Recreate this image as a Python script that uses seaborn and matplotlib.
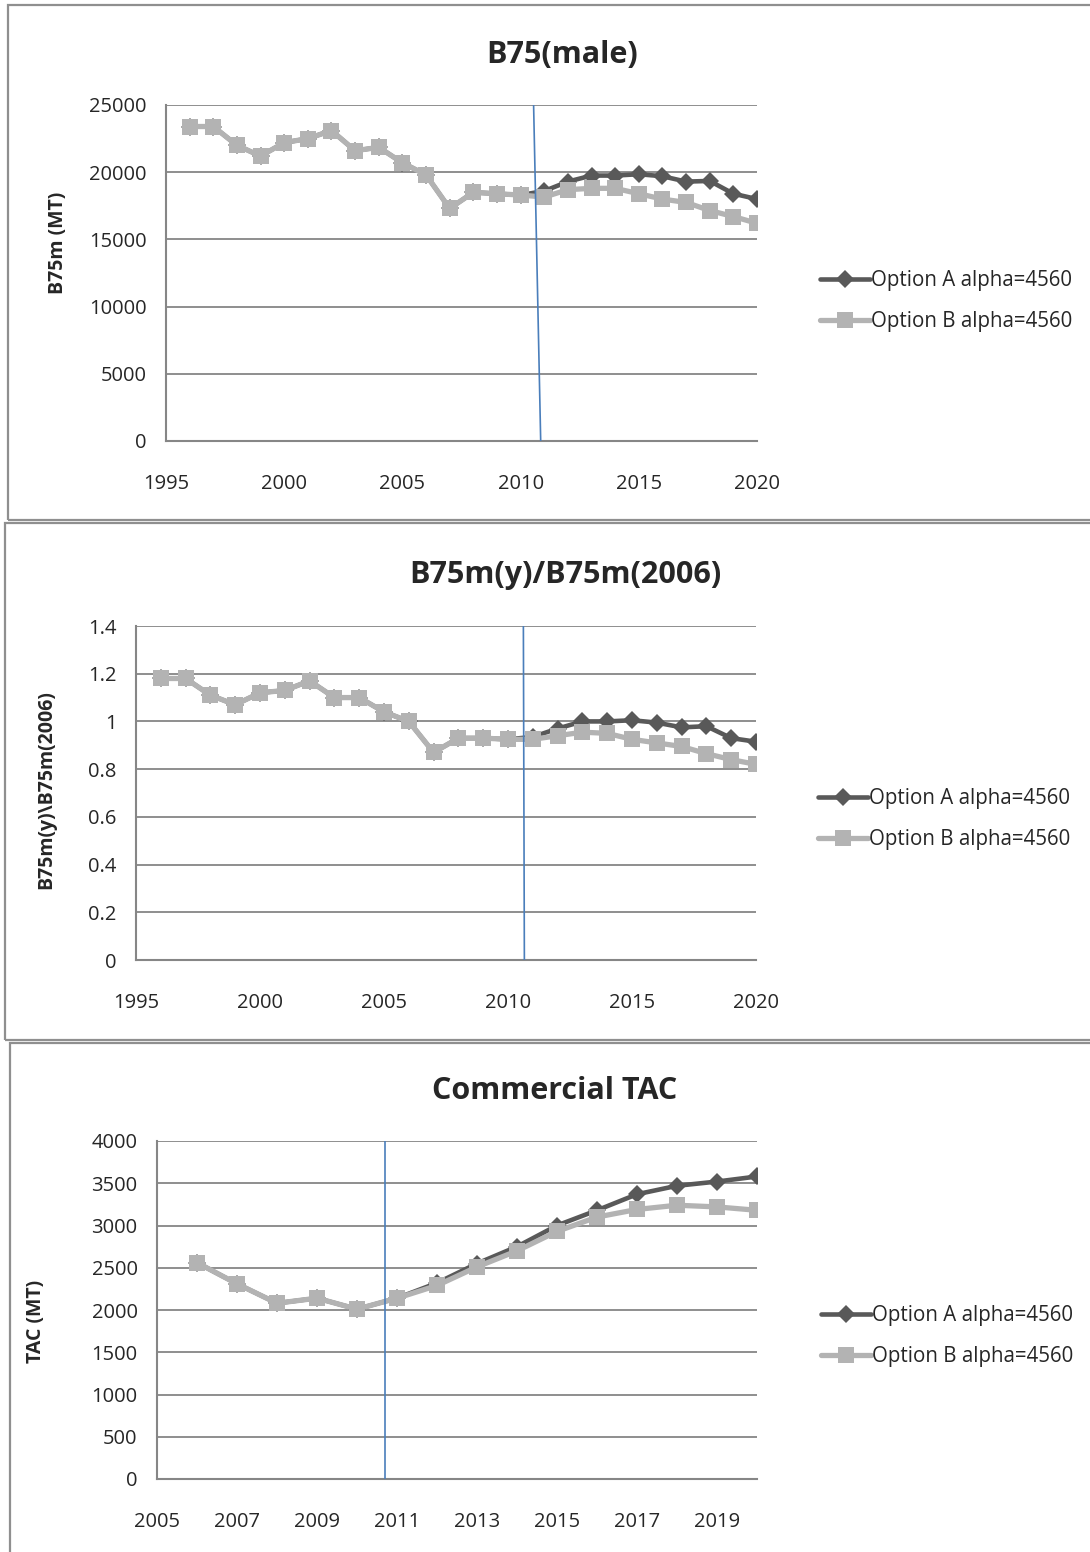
import numpy as np
import pandas as pd
import matplotlib
matplotlib.use("Agg")
import matplotlib.pyplot as plt
from matplotlib.patches import Rectangle
from matplotlib.ticker import MultipleLocator, FixedLocator, FuncFormatter
import seaborn as sns

# ---- data ----
years_b75 = list(range(1996, 2021))
b75_opt_a = [23400, 23400, 22000, 21200, 22200, 22500, 23100, 21600, 21850, 20700,
             19800, 17300, 18500, 18400, 18300, 18600, 19300, 19750, 19750, 19850,
             19700, 19300, 19350, 18400, 18000]
b75_opt_b = [23400, 23400, 22000, 21200, 22200, 22500, 23100, 21600, 21850, 20700,
             19800, 17300, 18500, 18400, 18300, 18150, 18700, 18800, 18800, 18400,
             18000, 17750, 17150, 16700, 16200]

ratio_opt_a = [1.18, 1.18, 1.11, 1.07, 1.12, 1.13, 1.17, 1.10, 1.10, 1.04,
               1.00, 0.87, 0.93, 0.93, 0.925, 0.935, 0.97, 1.00, 1.00, 1.005,
               0.995, 0.975, 0.98, 0.93, 0.915]
ratio_opt_b = [1.18, 1.18, 1.11, 1.07, 1.12, 1.13, 1.17, 1.10, 1.10, 1.04,
               1.00, 0.87, 0.93, 0.93, 0.925, 0.925, 0.94, 0.955, 0.95, 0.925,
               0.91, 0.895, 0.865, 0.84, 0.82]

years_tac = list(range(2006, 2021))
tac_opt_a = [2560, 2310, 2080, 2140, 2010, 2140, 2320, 2550, 2750, 3000,
             3180, 3370, 3470, 3520, 3580]
tac_opt_b = [2560, 2310, 2080, 2140, 2010, 2140, 2290, 2510, 2700, 2930,
             3100, 3190, 3240, 3220, 3180]
tac_year_ticks = list(range(2005, 2020, 2))

label_a = "Option A alpha=4560"
label_b = "Option B alpha=4560"

# hand-drawn divider line in each panel (x at top, x at bottom)
divider_b75 = [2010.55, 2010.85]
divider_ratio = [2010.62, 2010.66]
divider_tac = [2010.7, 2010.7]

# ---- style ----
sns.set_style("white")
plt.rcParams["font.family"] = ["Open Sans", "DejaVu Sans"]

W, H = 1090, 1552
fig = plt.figure(figsize=(W / 100, H / 100), dpi=100)

GRID = "#868686"
DARK = "#595959"
LIGHT = "#b3b3b3"
BLUE = "#4a7ebb"


def px_axes(left, top, right, bottom):
    return fig.add_axes([left / W, 1 - bottom / H, (right - left) / W, (bottom - top) / H])


def px_text(x, y, s, **kw):
    fig.text(x / W, 1 - y / H, s, ha="center", va="center", **kw)


def panel_box(x0, y0, x1, y1):
    fig.patches.append(Rectangle((x0 / W, 1 - y1 / H), (x1 - x0) / W, (y1 - y0) / H,
                                 transform=fig.transFigure, fill=False,
                                 edgecolor="#8f8f8f", linewidth=1.6))


def draw_panel(ax, x, ya, yb, divider, ylim, xlim, xticks, ystep, yfmt, leg_xy):
    sns.lineplot(x=x, y=ya, ax=ax, color=DARK, marker="D", markersize=9.5,
                 markeredgewidth=0, linewidth=3.3, label=label_a, zorder=3)
    sns.lineplot(x=x, y=yb, ax=ax, color=LIGHT, marker="s", markersize=12,
                 markeredgewidth=0, linewidth=3.8, label=label_b, zorder=4)
    ax.plot(divider, [ylim[1], ylim[0]], color=BLUE, linewidth=1.2, zorder=5)
    ax.set_xlim(*xlim)
    ax.set_ylim(*ylim)
    ax.yaxis.set_major_locator(MultipleLocator(ystep))
    ax.yaxis.set_major_formatter(FuncFormatter(yfmt))
    if xticks is None:
        ax.xaxis.set_major_locator(MultipleLocator(5))
        ax.xaxis.set_minor_locator(MultipleLocator(1))
    else:
        ax.xaxis.set_major_locator(FixedLocator(xticks))
    ax.grid(axis="y", color=GRID, linewidth=1.3)
    ax.set_axisbelow(True)
    for s in ["top", "right"]:
        ax.spines[s].set_visible(False)
    for s in ["left", "bottom"]:
        ax.spines[s].set_color(GRID)
        ax.spines[s].set_linewidth(1.5)
    ax.tick_params(axis="y", length=0, pad=14, labelsize=14.5)
    ax.tick_params(axis="x", which="both", direction="in", length=5, width=1.2,
                   color=GRID, pad=24, labelsize=14.5)
    ax.set_xlabel("")
    ax.set_ylabel("")
    ax.legend(loc="center left", bbox_to_anchor=(leg_xy[0] / W, 1 - leg_xy[1] / H),
              bbox_transform=fig.transFigure, frameon=False, fontsize=14.8,
              handlelength=2.45, handletextpad=0.05, labelspacing=1.0)


def fmt_int(v, _):
    return f"{v:.0f}"


def fmt_g(v, _):
    return f"{v:g}"


# panel frames
panel_box(8, 5, 1095, 520)
panel_box(5, 523, 1095, 1040)
panel_box(10, 1043, 1095, 1560)

# panel 1: B75(male)
ax1 = px_axes(166, 105, 757, 441)
draw_panel(ax1, years_b75, b75_opt_a, b75_opt_b, divider_b75, (0, 25000), (1995, 2020),
           None, 5000, fmt_int, (801, 301))
px_text(562, 55, "B75(male)", fontsize=22, fontweight="bold")
px_text(58, 243, "B75m (MT)", rotation=90, fontsize=14, fontweight="bold")

# panel 2: ratio to 2006
ax2 = px_axes(136, 626, 756, 960)
draw_panel(ax2, years_b75, ratio_opt_a, ratio_opt_b, divider_ratio, (0, 1.4), (1995, 2020),
           None, 0.2, fmt_g, (799, 819))
px_text(565, 575, "B75m(y)/B75m(2006)", fontsize=22, fontweight="bold")
px_text(46, 790, "B75m(y)\\B75m(2006)", rotation=90, fontsize=14, fontweight="bold")

# panel 3: Commercial TAC
ax3 = px_axes(157, 1141, 757, 1479)
draw_panel(ax3, years_tac, tac_opt_a, tac_opt_b, divider_tac, (0, 4000), (2005, 2020),
           tac_year_ticks, 500, fmt_int, (802, 1336))
px_text(555, 1091, "Commercial TAC", fontsize=22, fontweight="bold")
px_text(36, 1321, "TAC (MT)", rotation=90, fontsize=14, fontweight="bold")

fig.savefig("out.png", dpi=100)
